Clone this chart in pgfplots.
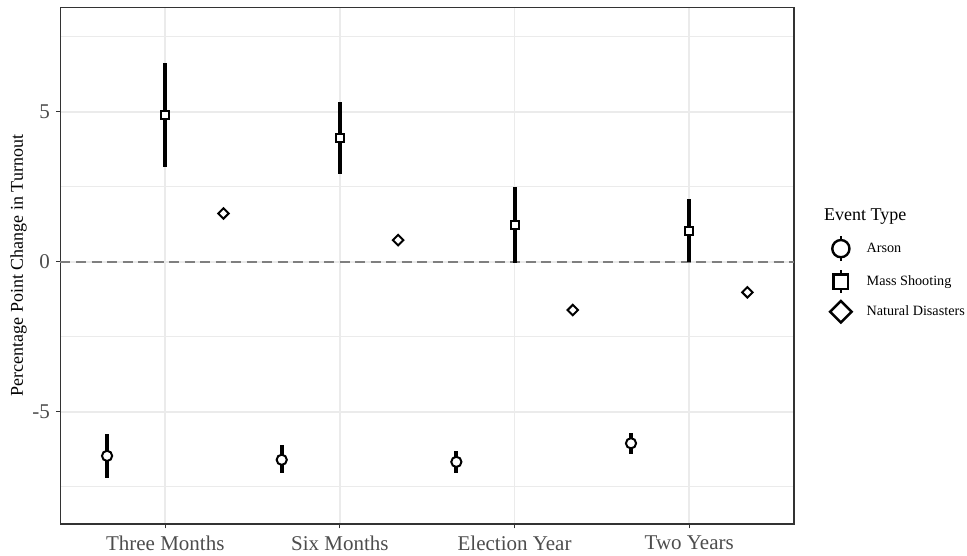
\documentclass[border=0pt]{standalone}
\usepackage{pgfplots}
\usepackage{pgfplotstable}
\pgfplotsset{compat=1.18}
\usepackage{fontspec}
\setmainfont{Liberation Serif}
\definecolor{gridc}{HTML}{EBEBEB}
\definecolor{gray20}{HTML}{333333}
\definecolor{gray30}{HTML}{4D4D4D}
\definecolor{gray50}{HTML}{7F7F7F}

\pgfplotsset{
  leg arson/.style={legend image code/.code={\draw[black, line width=2.6pt] (0pt,-12.5pt) -- (0pt,12.5pt);
    \draw[##1, mark size=8.6pt, /tikz/every mark/.append style={line width=2.4pt}] plot coordinates {(0pt,0pt)};}},
  leg mass/.style={legend image code/.code={\draw[black, line width=2.6pt] (0pt,-11.5pt) -- (0pt,11.5pt);
    \draw[##1, mark size=7.2pt, /tikz/every mark/.append style={line width=2.4pt}] plot coordinates {(0pt,0pt)};}},
  leg nat/.style={legend image code/.code={
    \draw[##1, mark size=7.6pt, /tikz/every mark/.append style={line width=2.4pt}] plot coordinates {(0pt,0pt)};}},
}

\pgfplotstableread{
x y lo hi
0.6667 -6.47 -7.22 -5.74
1.6667 -6.60 -7.05 -6.12
2.6667 -6.67 -7.05 -6.30
3.6667 -6.05 -6.41 -5.70
}\arson
\pgfplotstableread{
x y lo hi
1 4.89 3.15 6.63
2 4.11 2.91 5.31
3 1.21 -0.05 2.50
4 1.03 0.00 2.08
}\mass
\pgfplotstableread{
x y
1.3333 1.61
2.3333 0.72
3.3333 -1.61
4.3333 -1.02
}\nat

\begin{document}
\begin{tikzpicture}[x=1pt,y=1pt]
\path[use as bounding box] (0,0) rectangle (967,556);
\begin{axis}[
  at={(60.5pt,32pt)}, anchor=south west,
  scale only axis, width=733.5pt, height=516.7pt,
  xmin=0.4, xmax=4.6, ymin=-8.74, ymax=8.48,
  axis line style={gray20, line width=1.1pt},
  xtick={1,2,3,4}, xticklabels={Three Months, Six Months, Election Year, Two Years},
  ytick={-5,0,5}, yticklabels={-5,0,5},
  minor ytick={-7.5,-2.5,2.5,7.5},
  xtick pos=bottom, ytick pos=left,
  tick align=outside, major tick length=4.5pt, minor tick length=0pt,
  major tick style={gray20, line width=1.1pt},
  grid=both,
  major grid style={gridc, line width=1.8pt},
  minor grid style={gridc, line width=1.1pt},
  ticklabel style={font=\fontsize{21}{24}\selectfont, text=gray30},
  xticklabel style={yshift=-3.5pt},
  yticklabel style={xshift=-2.5pt},
  ylabel={Percentage Point Change in Turnout},
  ylabel style={font=\fontsize{18}{20}\selectfont, at={(axis description cs:-0.057,0.5)}, anchor=center},
  legend style={draw=none, fill=none, inner sep=0pt, at={(axis description cs:1.049,0.56)}, anchor=north west,
    font=\fontsize{14.2}{16}\selectfont, row sep=6.5pt, legend cell align=left,
    /tikz/every odd column/.append style={column sep=13pt}},
  clip=false,
]
\addplot[forget plot, gray50, line width=1.8pt, dash pattern=on 10pt off 5.5pt] coordinates {(0.4,0) (4.6,0)};

\addplot[forget plot, only marks, mark=none, error bars/.cd, y dir=both, y explicit, error mark=none,
  error bar style={draw=black, line width=4pt}]
  table[x=x, y=y, y error plus expr=\thisrow{hi}-\thisrow{y}, y error minus expr=\thisrow{y}-\thisrow{lo}] {\arson};
\addplot[forget plot, only marks, mark=none, error bars/.cd, y dir=both, y explicit, error mark=none,
  error bar style={draw=black, line width=4pt}]
  table[x=x, y=y, y error plus expr=\thisrow{hi}-\thisrow{y}, y error minus expr=\thisrow{y}-\thisrow{lo}] {\mass};

\addplot[only marks, mark=*, mark size=5.1pt, mark options={draw=black, fill=white, line width=2pt}, leg arson]
  table[x=x, y=y] {\arson};
\addlegendentry{Arson}
\addplot[only marks, mark=square*, mark size=4pt, mark options={draw=black, fill=white, line width=2pt}, leg mass]
  table[x=x, y=y] {\mass};
\addlegendentry{Mass Shooting}
\addplot[only marks, mark=square*, mark size=3.7pt, mark options={draw=black, fill=white, line width=2pt, rotate=45}, leg nat]
  table[x=x, y=y] {\nat};
\addlegendentry{Natural Disasters}

\node[anchor=base west, inner sep=0pt, font=\fontsize{18}{20}\selectfont] at (axis description cs:1.0409,0.5864) {Event Type};
\end{axis}
\end{tikzpicture}
\end{document}
